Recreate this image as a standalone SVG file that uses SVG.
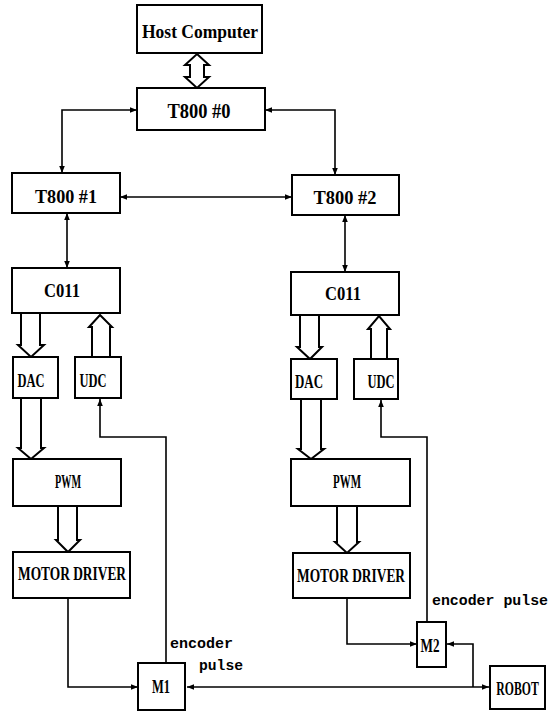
<svg xmlns="http://www.w3.org/2000/svg" width="559" height="712" viewBox="0 0 559 712">
<style>
.box{fill:#fff;stroke:#000;stroke-width:2}
.ln{fill:none;stroke:#000;stroke-width:1.6}
.hol{fill:#fff;stroke:#000;stroke-width:2;stroke-linejoin:miter}
.t{font-family:"Liberation Serif",serif;font-size:19px;font-weight:bold;text-anchor:middle;fill:#000}
.m{font-family:"Liberation Mono",monospace;font-size:15px;font-weight:bold;fill:#000}
</style>
<defs>
<marker id="ah" viewBox="0 0 10 10" refX="10" refY="5" markerWidth="9" markerHeight="7" markerUnits="userSpaceOnUse" orient="auto-start-reverse">
<path d="M0,1 L10,5 L0,9 Z" fill="#000"/>
</marker>
</defs>
<rect width="559" height="712" fill="#fff"/>
<g id="connectors">
<path class="hol" d="M197,54 L209,65 L204,65 L204,77 L209,77 L197,88 L185,77 L190,77 L190,65 L185,65 Z"/>
<path class="ln" d="M137,110 L62,110 L62,173" marker-start="url(#ah)" marker-end="url(#ah)"/>
<path class="ln" d="M265,110 L335,110 L335,175" marker-start="url(#ah)" marker-end="url(#ah)"/>
<path class="ln" d="M120,197 L292,197" marker-start="url(#ah)" marker-end="url(#ah)"/>
<path class="ln" d="M67,213 L67,268" marker-start="url(#ah)" marker-end="url(#ah)"/>
<path class="ln" d="M345,215 L345,272" marker-start="url(#ah)" marker-end="url(#ah)"/>
<polyline class="hol" points="21,314 21,345 18,345 31,357 44,345 40,345 40,314"/>
<polyline class="hol" points="92,357 92,327 89,327 100,315 112,327 110,327 110,357"/>
<polyline class="hol" points="21,399 21,448 18,448 31,459 44,448 41,448 41,399"/>
<polyline class="hol" points="58,506 58,540 56,540 68,552 80,540 77,540 77,506"/>
<polyline class="hol" points="300,316 300,347 297,347 310,359 322,347 319,347 319,316"/>
<polyline class="hol" points="371,359 371,329 368,329 379,316 390,329 387,329 387,359"/>
<polyline class="hol" points="301,400 301,449 298,449 311,459 324,449 321,449 321,400"/>
<polyline class="hol" points="337,506 337,542 335,542 347,553 359,542 357,542 357,506"/>
<path class="ln" d="M166,663 L166,437 L100,437 L100,399" marker-end="url(#ah)"/>
<path class="ln" d="M68,598 L68,687 L138,687" marker-end="url(#ah)"/>
<path class="ln" d="M187,687 L489,687" marker-start="url(#ah)" marker-end="url(#ah)"/>
<path class="ln" d="M427,622 L427,437 L381,437 L381,400" marker-end="url(#ah)"/>
<path class="ln" d="M347,598 L347,644 L417,644" marker-end="url(#ah)"/>
<path class="ln" d="M473,687 L473,644 L447,644" marker-end="url(#ah)"/>
</g>
<g id="host"><rect class="box" x="137" y="5" width="125" height="48"/><text class="t" x="200" y="38" textLength="116" lengthAdjust="spacingAndGlyphs">Host Computer</text></g>
<g id="t800-0"><rect class="box" x="137" y="88" width="128" height="42"/><text class="t" x="199" y="118" style="font-size:20px" textLength="63" lengthAdjust="spacingAndGlyphs">T800 #0</text></g>
<g id="t800-1"><rect class="box" x="12" y="173" width="108" height="40"/><text class="t" x="66" y="203" textLength="62" lengthAdjust="spacingAndGlyphs">T800 #1</text></g>
<g id="t800-2"><rect class="box" x="292" y="175" width="107" height="40"/><text class="t" x="345" y="204" textLength="63" lengthAdjust="spacingAndGlyphs">T800 #2</text></g>
<g id="c011-1"><rect class="box" x="12" y="268" width="108" height="45"/><text class="t" x="62" y="297" textLength="36" lengthAdjust="spacingAndGlyphs">C011</text></g>
<g id="c011-2"><rect class="box" x="291" y="272" width="108" height="43"/><text class="t" x="343" y="300" textLength="36" lengthAdjust="spacingAndGlyphs">C011</text></g>
<g id="dac-1"><rect class="box" x="13" y="357" width="45" height="41"/><text class="t" x="31" y="387" textLength="27" lengthAdjust="spacingAndGlyphs">DAC</text></g>
<g id="udc-1"><rect class="box" x="75" y="357" width="46" height="41"/><text class="t" x="93" y="387" textLength="27" lengthAdjust="spacingAndGlyphs">UDC</text></g>
<g id="dac-2"><rect class="box" x="291" y="359" width="46" height="40"/><text class="t" x="309" y="388" textLength="28" lengthAdjust="spacingAndGlyphs">DAC</text></g>
<g id="udc-2"><rect class="box" x="354" y="359" width="44" height="40"/><text class="t" x="381" y="388" textLength="27" lengthAdjust="spacingAndGlyphs">UDC</text></g>
<g id="pwm-1"><rect class="box" x="13" y="459" width="108" height="47"/><text class="t" x="68" y="488" textLength="26" lengthAdjust="spacingAndGlyphs">PWM</text></g>
<g id="pwm-2"><rect class="box" x="291" y="459" width="119" height="47"/><text class="t" x="347" y="488" textLength="28" lengthAdjust="spacingAndGlyphs">PWM</text></g>
<g id="md-1"><rect class="box" x="13" y="552" width="117" height="46"/><text class="t" x="72" y="580" textLength="108" lengthAdjust="spacingAndGlyphs">MOTOR DRIVER</text></g>
<g id="md-2"><rect class="box" x="293" y="553" width="117" height="45"/><text class="t" x="351" y="582" textLength="108" lengthAdjust="spacingAndGlyphs">MOTOR DRIVER</text></g>
<g id="m1"><rect class="box" x="138" y="663" width="47" height="47"/><text class="t" x="161" y="693" textLength="18" lengthAdjust="spacingAndGlyphs">M1</text></g>
<g id="m2"><rect class="box" x="417" y="622" width="29" height="45"/><text class="t" x="430" y="652" textLength="19" lengthAdjust="spacingAndGlyphs">M2</text></g>
<g id="robot"><rect class="box" x="490" y="666" width="55" height="43"/><text class="t" style="font-size:14px" transform="translate(517.5,695) scale(0.84,1.3)">ROBOT</text></g>
<g id="labels">
<text class="m" x="170" y="648" textLength="63" lengthAdjust="spacingAndGlyphs">encoder</text>
<text class="m" x="199" y="670" textLength="44" lengthAdjust="spacingAndGlyphs">pulse</text>
<text class="m" x="432" y="605" textLength="116" lengthAdjust="spacingAndGlyphs">encoder pulse</text>
</g>
</svg>
